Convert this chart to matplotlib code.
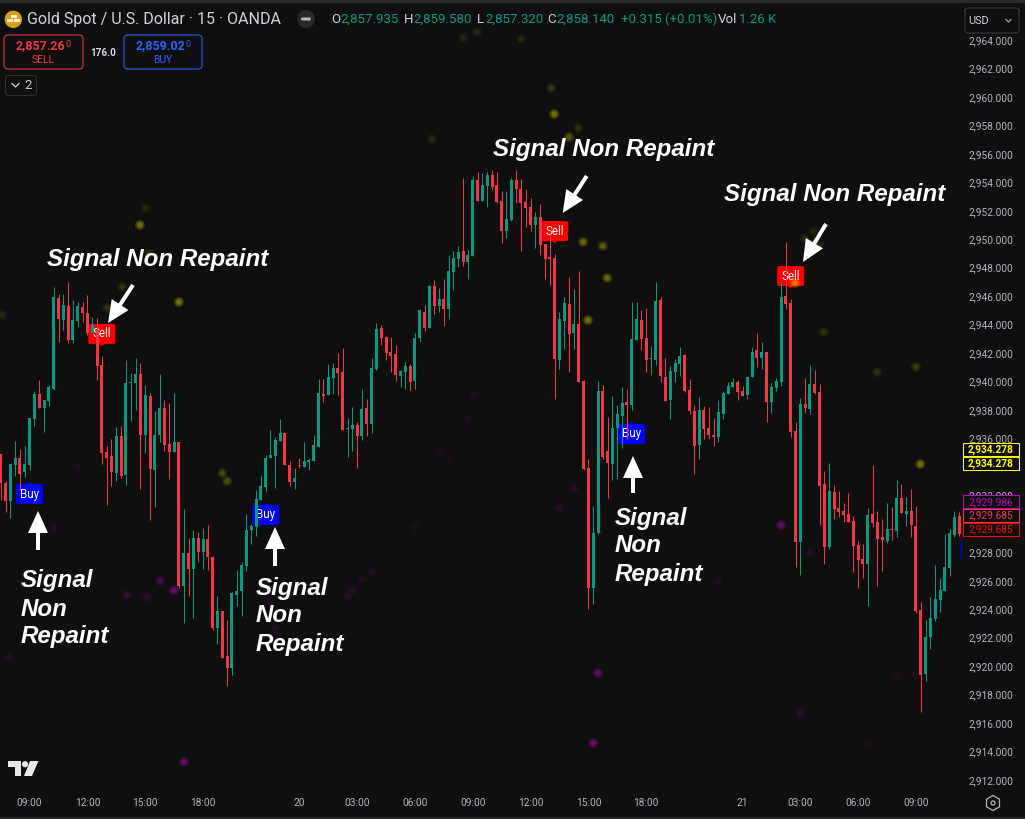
import numpy as np
import matplotlib
matplotlib.use("Agg")
import matplotlib.pyplot as plt
from matplotlib.patches import FancyBboxPatch, FancyArrow, Circle, Polygon, Rectangle, RegularPolygon
from matplotlib.transforms import Affine2D

# ---------- data ----------
body_tops = [
2934.91,2932.85,2934.21,2934.61,2934.61,2934.21,2937.44,2939.13,2939.13,2938.71,
2939.64,2945.94,2945.87,2945.38,2945.31,2944.33,2945.31,2945.24,2944.82,2943.98,
2943.62,2941.17,2935.05,2934.77,2936.18,2936.18,2939.90,2939.97,2940.53,2940.53,
2939.06,2938.99,2936.25,2938.14,2938.14,2935.61,2935.76,2935.75,2927.95,2927.95,
2929.01,2929.01,2928.94,2928.94,2927.67,2923.88,2923.88,2920.72,2925.14,2925.28,
2927.11,2929.57,2929.85,2931.75,2932.66,2934.63,2934.84,2935.89,2936.39,2936.39,
2934.14,2933.22,2934.14,2934.42,2934.49,2935.54,2939.20,2939.13,2940.32,2940.95,
2940.95,2940.67,2936.74,2936.95,2936.95,2938.07,2938.14,2940.95,2943.69,2943.76,
2943.13,2942.08,2941.94,2940.74,2941.09,2941.09,2943.06,2945.03,2944.89,2946.72,
2946.72,2945.80,2945.80,2947.77,2948.68,2949.11,2949.18,2948.90,2954.17,2954.17,
2953.81,2954.52,2954.52,2953.81,2952.69,2951.42,2954.17,2954.17,2953.53,2952.62,
2952.27,2951.57,2951.57,2949.67,2948.75,2948.68,2944.40,2945.52,2945.45,2944.05,
2944.05,2940.04,2933.93,2929.36,2939.34,2939.34,2935.12,2936.74,2937.72,2938.50,
2938.57,2943.00,2944.40,2944.33,2943.06,2941.66,2945.66,2945.73,2940.32,2940.74,
2941.31,2941.80,2941.87,2939.41,2937.93,2938.00,2938.00,2936.74,2936.25,2937.86,
2939.20,2939.69,2939.97,2939.97,2939.34,2940.32,2942.08,2942.22,2942.08,2942.08,
2939.62,2940.04,2945.94,2946.01,2945.52,2936.53,2938.42,2938.42,2939.83,2939.83,
2939.27,2932.80,2932.31,2932.24,2931.12,2930.91,2930.70,2930.20,2928.52,2927.53,
2930.63,2930.70,2930.13,2929.08,2929.64,2929.64,2931.82,2931.82,2930.91,2930.91,
2929.85,2923.95,2922.05,2923.39,2924.72,2925.36,2926.97,2929.36,2930.48,2930.56]

body_bottoms = [
2932.85,2931.63,2931.63,2934.14,2933.51,2933.67,2934.14,2937.39,2938.14,2938.14,
2938.64,2939.48,2944.40,2944.33,2942.92,2942.92,2944.26,2944.82,2943.41,2943.41,
2941.09,2934.98,2934.63,2933.65,2933.58,2933.37,2933.44,2939.90,2939.90,2936.25,
2936.25,2933.86,2933.79,2936.25,2935.54,2935.05,2935.05,2925.64,2925.64,2926.83,
2926.83,2928.02,2928.02,2927.67,2922.68,2922.68,2920.58,2919.87,2919.87,2925.00,
2925.28,2927.04,2929.57,2929.78,2931.68,2932.59,2934.63,2934.77,2935.82,2934.14,
2932.94,2932.94,2934.07,2934.00,2934.35,2934.42,2935.40,2938.98,2939.06,2940.25,
2940.60,2936.60,2936.67,2936.67,2936.18,2936.18,2937.02,2937.02,2940.88,2943.06,
2942.01,2941.80,2940.46,2940.39,2940.67,2939.97,2940.04,2943.09,2943.79,2943.79,
2945.31,2945.31,2945.10,2945.10,2947.70,2948.61,2948.40,2948.40,2948.83,2952.69,
2952.69,2953.74,2953.67,2952.62,2950.58,2950.58,2951.35,2953.53,2952.55,2952.20,
2951.00,2951.00,2949.60,2948.61,2948.61,2941.59,2941.52,2944.26,2943.34,2943.41,
2939.97,2933.86,2925.50,2925.50,2929.36,2934.70,2934.28,2934.21,2936.74,2937.58,
2938.36,2938.36,2942.92,2943.00,2941.52,2941.59,2941.52,2940.39,2938.64,2938.71,
2940.67,2941.24,2939.34,2937.93,2935.47,2935.54,2936.67,2936.25,2936.11,2936.11,
2937.72,2939.13,2939.62,2939.27,2938.99,2939.06,2940.32,2941.66,2941.66,2938.57,
2938.57,2939.55,2939.97,2945.45,2936.46,2928.73,2928.73,2938.14,2938.07,2939.20,
2932.66,2928.38,2928.38,2931.05,2930.84,2930.63,2930.13,2928.45,2927.46,2927.18,
2927.18,2930.06,2928.94,2928.87,2928.80,2929.57,2929.50,2930.77,2930.70,2929.92,
2923.88,2919.38,2919.45,2922.05,2923.32,2924.65,2925.29,2926.90,2929.22,2929.29]

highs = [
2934.91,2933.04,2934.21,2935.83,2935.26,2935.47,2937.44,2939.36,2940.11,2938.71,
2939.76,2946.65,2946.15,2946.15,2947.00,2945.73,2945.59,2945.59,2946.08,2944.56,
2944.44,2941.80,2935.47,2935.97,2936.81,2936.88,2941.52,2940.60,2941.66,2941.31,
2939.76,2939.20,2937.93,2940.53,2938.71,2938.50,2939.20,2935.75,2931.05,2929.03,
2929.57,2929.43,2929.69,2929.92,2927.74,2924.93,2923.88,2923.25,2925.21,2926.76,
2927.35,2930.69,2929.99,2932.38,2933.36,2934.84,2936.60,2936.10,2937.37,2936.39,
2934.42,2933.93,2934.63,2935.75,2934.63,2936.25,2940.18,2940.18,2941.23,2941.30,
2942.01,2942.36,2937.44,2938.21,2937.16,2939.48,2938.77,2941.66,2944.11,2943.97,
2943.20,2943.13,2942.57,2940.81,2941.37,2941.23,2943.41,2945.10,2945.38,2946.79,
2947.14,2946.58,2947.21,2948.90,2949.18,2949.53,2954.31,2949.25,2954.45,2954.73,
2954.66,2954.73,2954.87,2954.73,2953.39,2953.39,2954.31,2954.87,2954.24,2953.53,
2952.90,2951.92,2952.48,2949.67,2950.65,2948.97,2944.89,2945.94,2947.35,2946.51,
2947.77,2940.11,2934.56,2931.26,2940.04,2939.76,2937.51,2938.99,2938.36,2939.62,
2939.48,2945.59,2945.59,2945.03,2945.17,2942.50,2947.00,2945.94,2941.66,2941.09,
2941.59,2942.43,2941.94,2940.18,2938.35,2938.92,2938.28,2938.21,2937.44,2938.71,
2939.34,2939.97,2940.25,2940.11,2939.69,2940.32,2942.43,2943.41,2942.78,2942.08,
2939.90,2940.25,2947.00,2949.81,2945.80,2937.16,2938.85,2940.25,2941.16,2940.81,
2939.83,2933.72,2934.28,2932.73,2932.31,2931.47,2932.17,2930.56,2928.80,2928.59,
2931.12,2934.14,2930.91,2930.34,2931.47,2931.19,2933.09,2932.80,2931.89,2932.45,
2931.26,2924.51,2923.25,2924.86,2927.11,2926.20,2929.29,2929.64,2930.91,2930.84]

lows = [
2931.68,2930.86,2930.39,2933.37,2932.38,2933.32,2933.79,2936.88,2938.14,2936.46,
2938.28,2939.41,2942.78,2943.62,2942.73,2942.73,2943.86,2944.19,2943.27,2943.39,
2940.11,2934.21,2931.33,2932.66,2933.02,2933.23,2932.73,2937.23,2938.00,2932.45,
2934.98,2930.28,2931.19,2935.76,2935.12,2933.16,2935.05,2925.47,2923.06,2924.93,
2923.41,2927.32,2926.83,2926.76,2922.54,2921.56,2920.58,2918.61,2919.38,2924.23,
2923.53,2926.69,2928.59,2929.15,2931.68,2932.31,2934.63,2932.52,2935.82,2934.14,
2932.66,2932.45,2933.93,2934.00,2933.79,2934.42,2935.40,2938.56,2939.06,2939.13,
2939.06,2936.60,2934.70,2935.12,2933.93,2935.89,2936.18,2936.39,2940.81,2942.57,
2941.51,2940.67,2940.04,2939.62,2939.48,2939.41,2939.48,2942.81,2943.58,2943.79,
2944.75,2944.89,2943.91,2944.40,2946.44,2948.05,2948.12,2947.21,2948.83,2952.69,
2952.69,2952.27,2953.46,2952.55,2949.74,2950.09,2951.28,2952.55,2949.18,2950.86,
2950.58,2949.39,2948.90,2947.21,2946.79,2938.78,2940.89,2942.29,2940.67,2942.29,
2939.97,2933.79,2924.02,2924.37,2929.29,2934.56,2931.82,2933.09,2933.16,2935.34,
2935.97,2938.00,2942.92,2942.22,2940.67,2940.46,2941.17,2939.97,2938.64,2937.37,
2939.97,2940.39,2939.27,2937.72,2933.51,2934.56,2935.97,2935.97,2935.47,2935.75,
2937.37,2939.13,2939.62,2938.71,2938.99,2938.78,2940.32,2941.02,2940.88,2937.16,
2937.79,2939.34,2939.69,2945.10,2936.11,2926.97,2926.41,2937.79,2937.72,2939.13,
2929.92,2927.18,2928.24,2930.34,2930.49,2930.13,2930.13,2926.62,2925.50,2926.20,
2924.23,2929.78,2925.64,2926.69,2928.66,2928.87,2929.08,2930.77,2929.85,2929.08,
2923.74,2916.79,2918.96,2921.21,2923.18,2923.81,2925.29,2926.34,2929.08,2929.15]

bar_dirs = ("rrggrggg" "rg" "ggrgrggrrg" "rrrrgrgggr" "grggrrgrgr" "grgrrgrrgg"
            "gggggggggr" "rgrggggrgg" "rrggrgrggr" "rrrggrggrg" "rgrgggrggr"
            "ggrrrggrrr" "rgrrrrggrg" "rrrggrrggg" "rggrrggrrg" "ggrrrgrrrg"
            "gggrrggrgr" "gggrrrgrgr" "rrgrrrrrrr" "grrrgrgrgr" "rrgggggggr")

y_ticks = list(range(2912, 2966, 2))
y_hidden = [2930, 2934]   # fully covered by the price labels in the reference
x_tick_bars = [6, 18, 30, 42, 62, 74, 86, 98, 110, 122, 134, 154, 166, 178, 190]
x_tick_labels = ["09:00", "12:00", "15:00", "18:00", "20", "03:00", "06:00", "09:00",
                 "12:00", "15:00", "18:00", "21", "03:00", "06:00", "09:00"]

sell_bars = [21, 115, 164]
sell_prices = [2942.50, 2949.73, 2946.57]
buy_bars = [6, 55, 131]
buy_prices = [2932.94, 2931.47, 2937.16]

gold_bars = [28.9, 37.0, 114.9, 118.0, 120.9, 125.0, 125.9, 121.9, 190.9, 164.9, 30.8, 25.2, 22.1,
             46.0, 47.0, 0.3, 170.9, 181.9, 190.0, 167.0, 168.8, 170.1, 96.0, 98.9, 108.0, 119.9,
             114.3, 89.5, 30.0]
gold_prices = [2951.00, 2945.59, 2958.80, 2957.18, 2949.81, 2949.52, 2947.28, 2944.32, 2934.20,
               2946.92, 2948.96, 2946.64, 2945.17, 2933.57, 2933.01, 2944.68, 2943.48, 2940.67,
               2941.02, 2950.02, 2950.58, 2949.59, 2964.14, 2964.56, 2964.07, 2957.82, 2960.63,
               2957.04, 2952.19]
gold_glow = [.9, .9, .9, .6, .8, .7, .8, .9, .9, 1, .35, .3, .3, .5, .5, .2, .3, .3, .4, .25, .2, .2,
             .2, .2, .2, .3, .3, .2, .2]

violet_bars = [36.0, 33.1, 26.2, 30.4, 124.0, 123.0, 38.1, 162.0, 1.7, 11.1, 16.0, 86.2, 77.1, 75.0,
               73.0, 72.0, 55.9, 57.0, 98.1, 97.2, 91.2, 93.1, 119.0, 116.0, 168.0, 149.0, 185.9,
               166.0, 179.9]
violet_prices = [2925.35, 2925.98, 2925.00, 2924.86, 2919.52, 2914.60, 2913.27, 2929.92, 2920.64,
                 2929.71, 2934.07, 2929.71, 2926.62, 2926.12, 2925.35, 2924.93, 2924.51, 2922.68,
                 2939.05, 2937.37, 2935.05, 2934.49, 2932.45, 2931.11, 2927.95, 2925.98, 2919.31,
                 2916.71, 2914.53]
violet_glow = [.9, .5, .4, .3, .9, .9, .9, .9, .2, .2, .15, .15, .25, .2, .25, .25, .2, .2, .2, .15,
               .1, .1, .25, .25, .25, .2, .15, .3, .15]

# ---------- scales (reference pixels) ----------
W, H = 1025, 819
BG = "#0f0f0f"
GREEN, RED = "#089981", "#f23645"
PX_PER_BAR = 4.817
BAR0_PX = 0.7
PRICE_PER_PX = 0.07027
PLOT_R, PLOT_B = 961.5, 792

plt.rcParams["font.family"] = ["Roboto", "DejaVu Sans"]
fig = plt.figure(figsize=(W / 100, H / 100), dpi=100, facecolor=BG)
ax = fig.add_axes([0, (H - PLOT_B) / H, PLOT_R / W, PLOT_B / H], facecolor=BG)
ax.set_xlim(-BAR0_PX / PX_PER_BAR, (PLOT_R - BAR0_PX) / PX_PER_BAR)
ax.set_ylim(2964 - (PLOT_B - 40) * PRICE_PER_PX, 2964 + 40 * PRICE_PER_PX)
for s in ax.spines.values():
    s.set_visible(False)
ax.yaxis.tick_right()
ax.set_yticks(y_ticks)
ax.set_yticklabels(["" if v in y_hidden else f"{v:,.3f}" for v in y_ticks], color="#b2b5be", fontsize=7.3)
ax.set_xticks(x_tick_bars)
ax.set_xticklabels(x_tick_labels, color="#b2b5be", fontsize=7.3)
ax.tick_params(axis="y", length=0, pad=5.2)
ax.tick_params(axis="x", length=0, pad=4.3)

# signal labels (behind candles)
def signal(bar, price, text, color, up):
    px, py = ax.transData.transform((bar, price))
    t = Affine2D().translate(px, py)
    sign = -1 if up else 1
    lo = (-22 if up else 2)
    ax.add_patch(FancyBboxPatch((-13.5, lo), 27, 20, boxstyle="round,pad=0,rounding_size=2",
                                fc=color, ec="none", transform=t, zorder=2, clip_on=False))
    ax.add_patch(Polygon([(-3.5, sign * 2.5), (3.5, sign * 2.5), (0, 0)], closed=True, fc=color,
                         ec="none", transform=t, zorder=2, clip_on=False))
    ax.text(0, lo + 11.5, text, color="white", fontsize=8.4, ha="center", va="center_baseline",
            transform=t, zorder=2.1, clip_on=False)

for b, p in zip(sell_bars, sell_prices):
    signal(b, p, "Sell", "#ff0000", False)
for b, p in zip(buy_bars, buy_prices):
    signal(b, p, "Buy", "#0000ff", True)

# glowing dots
def dots(xs, ys, glow, rgb):
    g = np.array(glow)
    outer = np.column_stack([np.tile(rgb, (len(g), 1)), g * 0.22])
    inner = np.column_stack([np.tile(rgb, (len(g), 1)), g * 0.28])
    ax.scatter(xs, ys, s=48, c=outer, linewidths=0, zorder=2.3)
    ax.scatter(xs, ys, s=16, c=inner, linewidths=0, zorder=2.4)

dots(gold_bars, gold_prices, gold_glow, (1.0, 1.0, 0.0))
dots(violet_bars, violet_prices, violet_glow, (0.9, 0.0, 0.9))

# candles
tops = np.array(body_tops)
bots = np.array(body_bottoms)
up = np.array([c == "g" for c in bar_dirs])
opens = np.where(up, bots, tops)
closes = np.where(up, tops, bots)
bars = np.arange(len(opens))
colors = [GREEN if u else RED for u in up]
wicks = ax.vlines(bars, lows, highs, colors=colors, linewidth=0.72, zorder=3)
wicks.set_snap(True)
ax.bar(bars, np.maximum(np.abs(closes - opens), 0.07), bottom=np.minimum(opens, closes),
       width=3 / PX_PER_BAR, color=colors, linewidth=0, zorder=3.1)

# ---------- overlay in pixel coordinates ----------
ov = fig.add_axes([0, 0, 1, 1], zorder=5)
ov.set_xlim(0, W)
ov.set_ylim(H, 0)
ov.axis("off")
ov.patch.set_alpha(0)

def box(x0, y0, x1, y1, ec, fc=BG, r=4, lw=0.75):
    ov.add_patch(FancyBboxPatch((x0, y0), x1 - x0, y1 - y0, boxstyle=f"round,pad=0,rounding_size={r}",
                                fc=fc, ec=ec, lw=lw))

# frame strips
ov.add_patch(Rectangle((0, 0), W, 3, fc="#2a2a2a", ec="none"))
ov.add_patch(Rectangle((0, 816.5), W, 3, fc="#2a2a2a", ec="none"))

# header
ov.add_patch(Circle((13.3, 19.3), 8.7, fc="#d9a10c", ec="none"))
for (x0, y0, w, h) in [(10.5, 14.5, 6, 3), (6.5, 18.5, 6, 3), (14, 18.5, 6, 3)]:
    ov.add_patch(Rectangle((x0, y0), w, h, fc="#f5f0dc", ec="none"))
ov.text(27, 19.5, "Gold Spot / U.S. Dollar · 15 · OANDA", color="#d1d4dc", fontsize=11.5, va="center")
ov.add_patch(Circle((306, 19), 9, fc="#2a2a2a", ec="none"))
box(301, 17.5, 311, 20.5, "none", fc="#b2b5be", r=1.5)

teal = "#089981"
grey = "#d1d4dc"
for x, s, c in [(331, "O", grey), (340.7, "2,857.935", teal), (404, "H", grey), (413, "2,859.580", teal),
                (477, "L", grey), (485, "2,857.320", teal), (547.7, "C", grey), (556.7, "2,858.140", teal),
                (620.7, "+0.315 (+0.01%)", teal), (718, "Vol", grey), (739, "1.26 K", teal)]:
    ov.text(x, 19.5, s, color=c, fontsize=9.5, va="center")

# sell / buy boxes
box(4, 35, 83, 69, "#f23645")
ov.text(65.5, 46, "2,857.26", color="#f23645", fontsize=9, fontweight="bold", ha="right", va="center")
ov.text(66, 44.5, "0", color="#f23645", fontsize=6.5, va="center")
ov.text(43.5, 60, "SELL", color="#f23645", fontsize=7.4, ha="center", va="center")
ov.text(103, 52.5, "176.0", color="#d1d4dc", fontsize=7.2, fontweight="bold", ha="center", va="center")
box(124, 35, 202, 69, "#2962ff")
ov.text(185.5, 46, "2,859.02", color="#2962ff", fontsize=9, fontweight="bold", ha="right", va="center")
ov.text(186, 44.5, "0", color="#2962ff", fontsize=6.5, va="center")
ov.text(163, 60, "BUY", color="#2962ff", fontsize=7.4, ha="center", va="center")

box(5.5, 75.5, 36.5, 95.5, "#2e2e2e", r=3)
ov.plot([12, 15.5, 19], [83.5, 87, 83.5], color="#d1d4dc", lw=0.9)
ov.text(28, 85.5, "2", color="#d1d4dc", fontsize=9.5, ha="center", va="center")

box(965, 8, 1019, 33, "#3a3a3a", r=3)
ov.text(979, 20.5, "USD", color="#d1d4dc", fontsize=7.8, ha="center", va="center")
ov.plot([1006, 1008.5, 1011], [19.5, 22, 19.5], color="#b2b5be", lw=0.8)

# last-price labels
for y0, s, c in [(443, "2,934.278", "#ffff00"), (457, "2,934.278", "#ffff00"),
                 (495, "2,929.986", "#c000c0"), (508.5, "2,929.685", "#f23645"), (522.5, "2,929.685", "#ff0000")]:
    bold = "bold" if c == "#ffff00" else "normal"
    ov.add_patch(Rectangle((962.5, y0), 56, 13.2, fc=BG, ec=c, lw=0.75))
    ov.text(990.5, y0 + 6.8, s, color=c, fontsize=7.3, fontweight=bold, ha="center", va="center")
ov.plot([960.5, 960.5], [541, 558], color="#0000ff", lw=0.8)

# annotations
FONT = "Liberation Sans"
for x, y, s in [(47, 259.5, "Signal Non Repaint"), (493, 149.5, "Signal Non Repaint"), (724, 194.5, "Signal Non Repaint"),
                (21, 581, "Signal"), (21, 609, "Non"), (21, 637, "Repaint"),
                (256, 588, "Signal"), (256, 616, "Non"), (256, 644, "Repaint"),
                (615, 518, "Signal"), (615, 546, "Non"), (615, 574, "Repaint")]:
    ov.text(x, y, s, color="white", fontsize=17.35, family=FONT, fontweight="bold", fontstyle="italic",
            va="center", ha="left")

for (tx, ty), (hx, hy) in [((133, 285), (108, 323)), ((586.7, 176), (562.7, 213)), ((826, 224), (803, 262)),
                           ((38, 550), (38, 511)), ((275, 566), (275, 527)), ((633, 493), (633, 456))]:
    ov.add_patch(FancyArrow(tx, ty, hx - tx, hy - ty, width=4, head_width=20, head_length=22,
                            length_includes_head=True, fc="white", ec="none"))

# TradingView mark
ov.add_patch(Polygon([(8, 761), (21, 761), (21, 776), (14.5, 776), (14.5, 767), (8, 767)], closed=True, fc="#e8e8e8", ec="none"))
ov.add_patch(Circle((25, 764.2), 3.1, fc="#e8e8e8", ec="none"))
ov.add_patch(Polygon([(30, 761), (38.5, 761), (32, 776), (24, 776)], closed=True, fc="#e8e8e8", ec="none"))

# settings icon
ov.add_patch(RegularPolygon((993, 803), 6, radius=7.5, fill=False, ec="#b2b5be", lw=0.9))
ov.add_patch(Circle((993, 803), 2, fill=False, ec="#b2b5be", lw=0.9))

fig.savefig("out.png", dpi=100, facecolor=BG)
